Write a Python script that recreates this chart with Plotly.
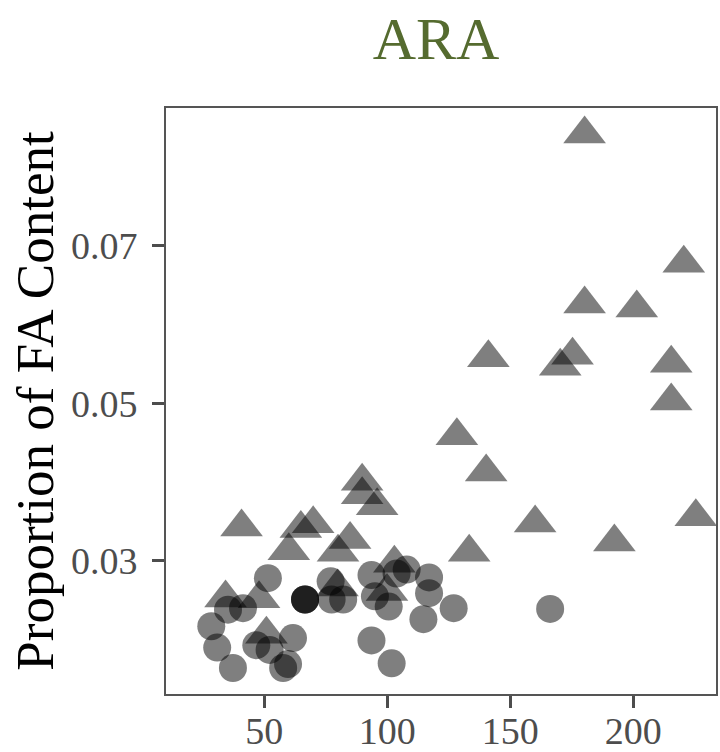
import plotly.graph_objects as go

# Triangle group (x, proportion)
tri_x = [180.2, 220.5, 180.2, 201.4, 141.1, 175.3, 170.3, 215.4, 215.4, 128.3,
         140.2, 160.1, 133.3, 192.3, 225.4, 89.8, 89.8, 95.9, 40.8, 64.9,
         69.9, 60.0, 84.9, 80.0, 102.9, 34.3, 47.9, 79.8, 50.9, 99.9]
tri_y = [0.0842, 0.0678, 0.0626, 0.0621, 0.0558, 0.0561, 0.0547, 0.0551, 0.0503, 0.0459,
         0.0413, 0.0348, 0.0311, 0.0324, 0.0356, 0.0401, 0.0384, 0.0370, 0.0343, 0.0341,
         0.0347, 0.0313, 0.0327, 0.0311, 0.0297, 0.0253, 0.0252, 0.0267, 0.0207, 0.0261]

# Circle group (x, proportion)
circ_x = [51.5, 35.3, 41.4, 28.5, 30.9, 37.3, 46.8, 52.2, 61.7, 59.7,
          57.7, 66.6, 66.6, 66.6, 77.0, 77.4, 82.1, 93.6, 95.0, 100.6,
          103.8, 107.9, 117.0, 117.0, 127.0, 114.7, 93.6, 101.8, 166.2]
circ_y = [0.0278, 0.0238, 0.0240, 0.0217, 0.0190, 0.0164, 0.0193, 0.0187, 0.0202, 0.0169,
          0.0164, 0.0251, 0.0251, 0.0251, 0.0274, 0.0251, 0.0251, 0.0282, 0.0255, 0.0242,
          0.0284, 0.0289, 0.0279, 0.0259, 0.0240, 0.0226, 0.0199, 0.0170, 0.0239]

x_ticks = [50, 100, 150, 200]
y_ticks = [0.03, 0.05, 0.07]
y_ticktext = ["0.03", "0.05", "0.07"]

FONT = "Liberation Serif, Times New Roman, serif"

fig = go.Figure()
fig.add_trace(go.Scatter(
    x=circ_x, y=circ_y, mode="markers",
    marker=dict(symbol="circle", size=28, color="black", opacity=0.5, line=dict(width=0)),
    showlegend=False, hoverinfo="skip"))
fig.add_trace(go.Scatter(
    x=tri_x, y=tri_y, mode="markers",
    marker=dict(symbol="triangle-up", size=37, color="black", opacity=0.5, line=dict(width=0)),
    showlegend=False, hoverinfo="skip"))

axis_common = dict(
    showgrid=False, zeroline=False, showline=True, linecolor="#555555", linewidth=2,
    mirror=True, ticks="outside", ticklen=12, tickwidth=3, tickcolor="#4d4d4d",
    tickfont=dict(family=FONT, size=38, color="#4d4d4d"),
)

fig.update_layout(
    width=720, height=752,
    margin=dict(l=166, r=4, t=108, b=58, autoexpand=False),
    paper_bgcolor="white", plot_bgcolor="white",
    font=dict(family=FONT),
    title=dict(text="ARA", x=0.491, xref="paper", y=1 - 38 / 752, yref="container",
               xanchor="center", yanchor="middle",
               font=dict(family=FONT, size=60, color="#556B2F")),
    xaxis=dict(range=[10.1, 233.6], tickvals=x_ticks, ticklabelstandoff=-10, **axis_common),
    yaxis=dict(range=[0.0131, 0.0875], tickvals=y_ticks, ticktext=y_ticktext,
               ticklabelstandoff=7,
               title=dict(text="Proportion of FA Content", standoff=0,
                          font=dict(family=FONT, size=53, color="black")),
               **axis_common),
)

fig.write_html("out.html")
